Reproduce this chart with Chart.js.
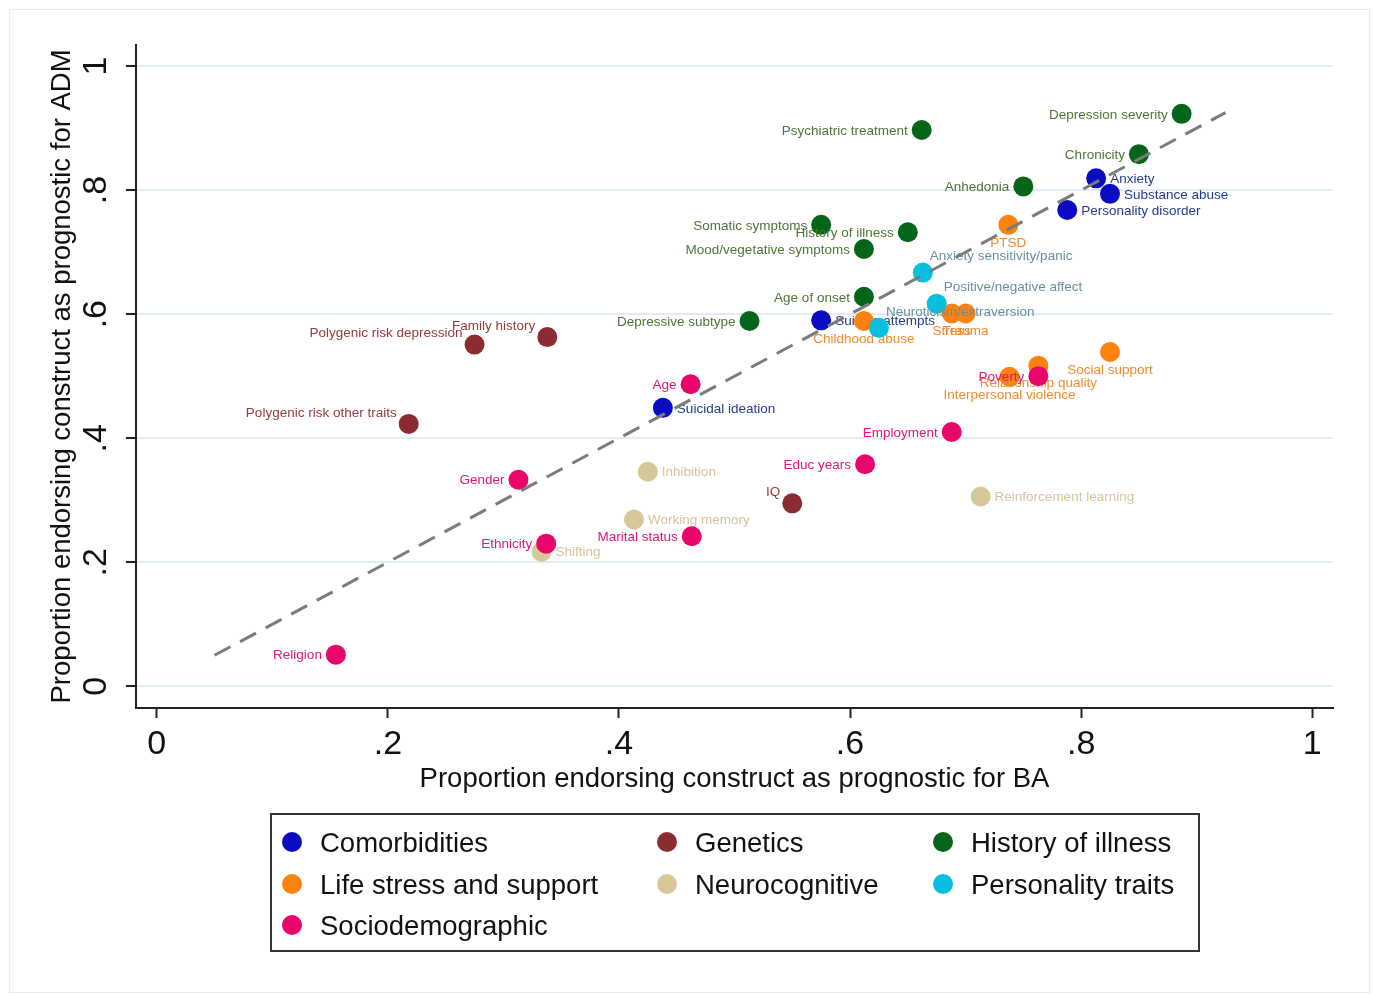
<!DOCTYPE html>
<html>
<head>
<meta charset="utf-8">
<script src="https://cdn.jsdelivr.net/npm/chart.js@4/dist/chart.umd.min.js"></script>
<style>
  html, body { margin: 0; padding: 0; background: #ffffff; }
  #wrap { position: relative; width: 1373px; height: 994px; }
  canvas { display: block; }
</style>
</head>
<body>
<div id="wrap"><canvas id="chart" width="1373" height="994"></canvas></div>
<script>
// Construct groups (legend order)
const categories = ['Comorbidities', 'Genetics', 'History of illness', 'Life stress and support',
                    'Neurocognitive', 'Personality traits', 'Sociodemographic'];

// Comorbidities
const comorbNames = ['Anxiety', 'Substance abuse', 'Personality disorder', 'Suicide attempts', 'Suicidal ideation'];
const comorbBA    = [0.813, 0.825, 0.788, 0.575, 0.438];
const comorbADM   = [0.819, 0.794, 0.768, 0.590, 0.449];

// Genetics
const geneticsNames = ['Family history', 'Polygenic risk depression', 'Polygenic risk other traits', 'IQ'];
const geneticsBA    = [0.338, 0.275, 0.218, 0.550];
const geneticsADM   = [0.563, 0.551, 0.423, 0.295];

// History of illness
const historyNames = ['Depression severity', 'Psychiatric treatment', 'Chronicity', 'Anhedonia', 'Somatic symptoms',
                      'History of illness', 'Mood/vegetative symptoms', 'Age of onset', 'Depressive subtype'];
const historyBA    = [0.887, 0.662, 0.850, 0.750, 0.575, 0.650, 0.612, 0.612, 0.513];
const historyADM   = [0.923, 0.897, 0.858, 0.806, 0.744, 0.732, 0.705, 0.628, 0.589];

// Life stress and support
const stressNames = ['PTSD', 'Childhood abuse', 'Stress', 'Trauma', 'Social support', 'Relationship quality', 'Interpersonal violence'];
const stressBA    = [0.737, 0.612, 0.688, 0.700, 0.825, 0.763, 0.738];
const stressADM   = [0.744, 0.589, 0.601, 0.601, 0.539, 0.517, 0.499];

// Neurocognitive
const neuroNames = ['Inhibition', 'Working memory', 'Shifting', 'Reinforcement learning'];
const neuroBA    = [0.425, 0.413, 0.333, 0.713];
const neuroADM   = [0.346, 0.269, 0.217, 0.306];

// Personality traits
const personNames = ['Anxiety sensitivity/panic', 'Positive/negative affect', 'Neuroticism/extraversion'];
const personBA    = [0.663, 0.675, 0.625];
const personADM   = [0.667, 0.617, 0.578];

// Sociodemographic
const socioNames = ['Age', 'Employment', 'Educ years', 'Gender', 'Ethnicity', 'Marital status', 'Religion', 'Poverty'];
const socioBA    = [0.462, 0.688, 0.613, 0.313, 0.337, 0.463, 0.155, 0.763];
const socioADM   = [0.487, 0.410, 0.358, 0.333, 0.230, 0.242, 0.051, 0.500];

// Label clock positions per group (9 = left, 3 = right, 6 = below, 10 = upper left, 1 = upper right)
const comorbPos   = [3, 3, 3, 3, 3];
const geneticsPos = [10, 10, 10, 10];
const historyPos  = [9, 9, 9, 9, 9, 9, 9, 9, 9];
const stressPos   = [6, 6, 6, 6, 6, 6, 6];
const neuroPos    = [3, 3, 3, 3];
const personPos   = [1, 1, 1];
const socioPos    = [9, 9, 9, 9, 9, 9, 9, 9];

// Equality reference line
const refX = [0.05, 0.925];
const refY = [0.05, 0.925];

// Axis ticks
const xTicks = [0, 0.2, 0.4, 0.6, 0.8, 1];
const yTicks = [0, 0.2, 0.4, 0.6, 0.8, 1];
const tickText = v => (v === 0 ? '0' : v === 1 ? '1' : String(v).replace(/^0/, ''));

const xTitle = 'Proportion endorsing construct as prognostic for BA';
const yTitle = 'Proportion endorsing construct as prognostic for ADM';

const markerColors = ['#0b0bc2', '#8c2c31', '#05661b', '#fd8210', '#d6c898', '#08bfe0', '#e9066b'];
const textColors   = ['#213c8c', '#953a3c', '#4e7436', '#f08a2c', '#d2c59e', '#6a8ea0', '#e1157a'];

const groups = [
  { names: comorbNames,   ba: comorbBA,   adm: comorbADM,   pos: comorbPos },
  { names: geneticsNames, ba: geneticsBA, adm: geneticsADM, pos: geneticsPos },
  { names: historyNames,  ba: historyBA,  adm: historyADM,  pos: historyPos },
  { names: stressNames,   ba: stressBA,   adm: stressADM,   pos: stressPos },
  { names: neuroNames,    ba: neuroBA,    adm: neuroADM,    pos: neuroPos },
  { names: personNames,   ba: personBA,   adm: personADM,   pos: personPos },
  { names: socioNames,    ba: socioBA,    adm: socioADM,    pos: socioPos }
];

const FONT = '"Liberation Sans", Arial, Helvetica, sans-serif';

const datasets = groups.map((g, i) => ({
  type: 'scatter',
  label: categories[i],
  data: g.ba.map((x, k) => ({ x: x, y: g.adm[k] })),
  pointNames: g.names,
  pointPos: g.pos,
  groupIndex: i,
  backgroundColor: markerColors[i],
  borderWidth: 0,
  pointRadius: 10,
  pointHoverRadius: 10,
  order: 10 - i
}));
datasets.push({
  type: 'line',
  label: 'equality',
  data: refX.map((x, k) => ({ x: x, y: refY[k] })),
  borderColor: '#7b7b7b',
  borderWidth: 3,
  borderDash: [18, 11],
  pointRadius: 0,
  fill: false,
  order: 0
});

// White page with a faint outer frame
const pagePlugin = {
  id: 'page',
  beforeDraw(chart) {
    const ctx = chart.ctx;
    ctx.save();
    ctx.fillStyle = '#ffffff';
    ctx.fillRect(0, 0, chart.width, chart.height);
    ctx.strokeStyle = '#e9edf0';
    ctx.lineWidth = 1;
    ctx.strokeRect(9.5, 9.5, 1360, 983);
    ctx.restore();
  }
};

// Marker labels, drawn right after each group's markers
const labelPlugin = {
  id: 'pointLabels',
  afterDatasetDraw(chart, args) {
    const ds = chart.data.datasets[args.index];
    if (!ds.pointNames) return;
    const ctx = chart.ctx;
    ctx.save();
    ctx.font = '13.5px ' + FONT;
    ctx.fillStyle = textColors[ds.groupIndex];
    ctx.textBaseline = 'middle';
    args.meta.data.forEach((el, k) => {
      const p = ds.pointPos[k];
      let x = el.x, y = el.y;
      if (p === 9)       { ctx.textAlign = 'right';  x -= 14; y += 1; }
      else if (p === 3)  { ctx.textAlign = 'left';   x += 14; y += 1; }
      else if (p === 10) { ctx.textAlign = 'right';  x -= 12; y -= 11; }
      else if (p === 1)  { ctx.textAlign = 'left';   x += 7;  y -= 16; }
      else if (p === 6)  { ctx.textAlign = 'center'; y += 18; }
      ctx.fillText(ds.pointNames[k], x, y);
    });
    ctx.restore();
  }
};

// Tick labels, axis titles and legend box
const frameTextPlugin = {
  id: 'frameText',
  afterDraw(chart) {
    const ctx = chart.ctx;
    const xs = chart.scales.x, ys = chart.scales.y, area = chart.chartArea;
    ctx.save();
    ctx.fillStyle = '#111111';
    ctx.textAlign = 'center';
    ctx.textBaseline = 'middle';

    ctx.font = '34px ' + FONT;
    xTicks.forEach(v => ctx.fillText(tickText(v), xs.getPixelForValue(v), 745));
    yTicks.forEach(v => {
      ctx.save();
      ctx.translate(97, ys.getPixelForValue(v));
      ctx.rotate(-Math.PI / 2);
      ctx.fillText(tickText(v), 0, 0);
      ctx.restore();
    });

    ctx.font = '27.5px ' + FONT;
    ctx.fillText(xTitle, (area.left + area.right) / 2, 779);
    ctx.save();
    ctx.translate(62, (area.top + area.bottom) / 2);
    ctx.rotate(-Math.PI / 2);
    ctx.fillText(yTitle, 0, 0);
    ctx.restore();

    // Legend
    const box = { x: 271, y: 814, w: 928, h: 137 };
    ctx.strokeStyle = '#333333';
    ctx.lineWidth = 2;
    ctx.strokeRect(box.x, box.y, box.w, box.h);
    const colX = [292, 667, 943];
    const rowY = [842, 884, 925];
    ctx.font = '27.5px ' + FONT;
    ctx.textAlign = 'left';
    categories.forEach((name, i) => {
      const cx = colX[i % 3], cy = rowY[Math.floor(i / 3)];
      ctx.fillStyle = markerColors[i];
      ctx.beginPath();
      ctx.arc(cx, cy, 10, 0, Math.PI * 2);
      ctx.fill();
      ctx.fillStyle = '#111111';
      ctx.fillText(name, cx + 28, cy + 2);
    });
    ctx.restore();
  }
};

new Chart(document.getElementById('chart'), {
  data: { datasets: datasets },
  options: {
    responsive: false,
    animation: false,
    devicePixelRatio: 1,
    layout: { padding: { left: 0, top: 45, right: 40, bottom: 226 } },
    plugins: { legend: { display: false }, tooltip: { enabled: false }, title: { display: false } },
    events: [],
    scales: {
      x: {
        type: 'linear',
        min: -0.018,
        max: 1.018,
        afterBuildTicks: s => { s.ticks = xTicks.map(v => ({ value: v })); },
        afterFit: s => { s.height = 60; },
        ticks: { display: false },
        grid: { display: true, drawOnChartArea: false, drawTicks: true, tickLength: 10,
                tickColor: '#222222', tickWidth: 2, color: '#222222' },
        border: { display: true, color: '#222222', width: 2 }
      },
      y: {
        type: 'linear',
        min: -0.035,
        max: 1.034,
        afterBuildTicks: s => { s.ticks = yTicks.map(v => ({ value: v })); },
        afterFit: s => { s.width = 136; },
        ticks: { display: false },
        grid: { display: true, drawOnChartArea: true, drawTicks: true, tickLength: 10,
                color: '#e3ebf3', lineWidth: 2, tickColor: '#222222', tickWidth: 2 },
        border: { display: true, color: '#222222', width: 2 }
      }
    }
  },
  plugins: [pagePlugin, labelPlugin, frameTextPlugin]
});
</script>
</body>
</html>
